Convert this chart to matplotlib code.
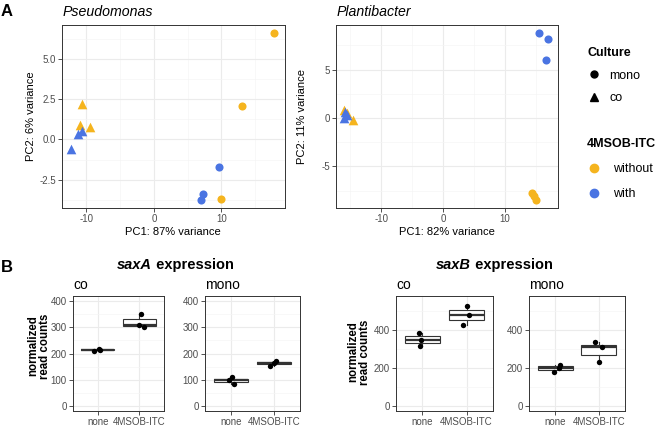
import matplotlib.pyplot as plt
from matplotlib.lines import Line2D
from matplotlib.ticker import MultipleLocator, FormatStrFormatter

plt.rcParams['font.family'] = ['Liberation Sans', 'DejaVu Sans']
plt.rcParams['axes.unicode_minus'] = False

W, H = 656, 432
YELLOW = '#F5B41E'
BLUE = '#4A74E2'
DARK = '#333333'
TICKCOL = '#4D4D4D'

# ---- Panel A data (PCA scores) ----
culture = ['co', 'co', 'co', 'co', 'co', 'co', 'mono', 'mono', 'mono', 'mono', 'mono', 'mono']
itc = ['without', 'without', 'without', 'with', 'with', 'with',
       'with', 'with', 'with', 'without', 'without', 'without']

pseudo_pc1 = [-10.7, -11.0, -9.5, -12.2, -11.2, -10.6, 9.6, 7.2, 6.9, 10.0, 13.1, 17.8]
pseudo_pc2 = [2.2, 0.88, 0.8, -0.62, 0.35, 0.55, -1.71, -3.36, -3.73, -3.72, 2.06, 6.6]

planti_pc1 = [-16.0, -14.5, -15.5, -16.0, -15.5, -15.8, 15.5, 17.0, 16.6, 14.35, 14.7, 15.0]
planti_pc2 = [0.82, -0.2, 0.5, 0.0, 0.3, 0.6, 8.73, 8.11, 5.98, -7.7, -8.04, -8.49]

# ---- Panel B data (normalized read counts) ----
treatments = ['none', '4MSOB-ITC']
saxA_co_none = [211, 215, 218]
saxA_co_itc = [353, 308, 302]
saxA_mono_none = [110, 97, 85]
saxA_mono_itc = [152, 165, 172]
saxB_co_none = [383, 348, 317]
saxB_co_itc = [527, 480, 425]
saxB_mono_none = [178, 216, 200]
saxB_mono_itc = [334, 308, 230]

# horizontal jitter of the points
jit_saxA_co = [[-0.09, 0.05, 0.03], [0.04, 0.0, 0.11]]
jit_saxA_mono = [[0.03, -0.04, 0.07], [-0.1, 0.0, 0.04]]
jit_saxB_co = [[-0.07, -0.03, -0.05], [0.0, 0.05, -0.08]]
jit_saxB_mono = [[-0.03, 0.1, 0.08], [-0.09, 0.07, 0.0]]


def fx(x):
    return x / W


def fy(y):
    return 1 - y / H


def px_axes(fig, left, top, right, bottom):
    return fig.add_axes([left / W, 1 - bottom / H, (right - left) / W, (bottom - top) / H])


def style_axes(ax):
    for s in ax.spines.values():
        s.set_color(DARK)
        s.set_linewidth(0.7)
    ax.grid(True, which='major', color='#EBEBEB', lw=0.8)
    ax.grid(True, which='minor', color='#F5F5F5', lw=0.5)
    ax.set_axisbelow(True)
    ax.tick_params(which='major', length=3, width=0.6, color=DARK,
                   labelsize=7, labelcolor=TICKCOL, pad=1.5)
    ax.tick_params(which='minor', length=0)


def plot_pca(ax, pc1, pc2, xlim, ylim, xmaj, ymaj):
    for cult, marker, size in [('co', '^', 48), ('mono', 'o', 34)]:
        for cond, col in [('without', YELLOW), ('with', BLUE)]:
            xs = [x for x, c, t in zip(pc1, culture, itc) if c == cult and t == cond]
            ys = [y for y, c, t in zip(pc2, culture, itc) if c == cult and t == cond]
            ax.scatter(xs, ys, marker=marker, s=size, color=col, linewidths=0, zorder=3)
    ax.set_xlim(*xlim)
    ax.set_ylim(*ylim)
    ax.xaxis.set_major_locator(MultipleLocator(xmaj))
    ax.xaxis.set_minor_locator(MultipleLocator(xmaj / 2))
    ax.yaxis.set_major_locator(MultipleLocator(ymaj))
    ax.yaxis.set_minor_locator(MultipleLocator(ymaj / 2))
    style_axes(ax)


def plot_box(ax, groups, jitter, ylim, ymaj):
    ax.boxplot(groups, positions=[1, 2], widths=0.8, showfliers=False, showcaps=False,
               patch_artist=True,
               boxprops=dict(facecolor='white', edgecolor=DARK, lw=0.8),
               medianprops=dict(color=DARK, lw=1.6),
               whiskerprops=dict(color=DARK, lw=0.8))
    for i, (vals, jit) in enumerate(zip(groups, jitter)):
        xs = [i + 1 + j for j in jit]
        ax.scatter(xs, vals, s=15, color='black', linewidths=0, zorder=4)
    ax.set_xlim(0.4, 2.6)
    ax.set_ylim(*ylim)
    ax.set_xticks([1, 2])
    ax.set_xticklabels(treatments)
    ax.yaxis.set_major_locator(MultipleLocator(ymaj))
    ax.yaxis.set_minor_locator(MultipleLocator(ymaj / 2))
    style_axes(ax)


fig = plt.figure(figsize=(W / 100, H / 100), dpi=100)

# ---- Panel A ----
ax1 = px_axes(fig, 62, 25, 285, 208)
plot_pca(ax1, pseudo_pc1, pseudo_pc2, (-13.6, 19.4), (-4.25, 7.1), 10, 2.5)
ax1.yaxis.set_major_formatter(FormatStrFormatter('%.1f'))
ax2 = px_axes(fig, 336, 25, 558, 208)
plot_pca(ax2, planti_pc1, planti_pc2, (-17.3, 18.6), (-9.3, 9.6), 10, 5)

fig.text(fx(1), fy(11), 'A', fontsize=12, fontweight='bold', va='center', ha='left')
fig.text(fx(63), fy(12), 'Pseudomonas', fontsize=10.2, style='italic', va='center')
fig.text(fx(337), fy(12), 'Plantibacter', fontsize=10.2, style='italic', va='center')
fig.text(fx(173), fy(232), 'PC1: 87% variance', fontsize=8, ha='center', va='center')
fig.text(fx(447), fy(232), 'PC1: 82% variance', fontsize=8, ha='center', va='center')
fig.text(fx(31), fy(116), 'PC2: 6% variance', fontsize=8, ha='center', va='center', rotation=90)
fig.text(fx(302), fy(116), 'PC2: 11% variance', fontsize=8, ha='center', va='center', rotation=90)

# legends
cult_handles = [Line2D([], [], marker='o', color='black', ls='', markersize=5, label='mono'),
                Line2D([], [], marker='^', color='black', ls='', markersize=5.5, label='co')]
itc_handles = [Line2D([], [], marker='o', color=YELLOW, ls='', markersize=6, label='without'),
               Line2D([], [], marker='o', color=BLUE, ls='', markersize=6, label='with')]
legend_specs = [(cult_handles, 'Culture', 47, 0.85, 0.7),
                (itc_handles, '4MSOB-ITC', 138, 1.05, 1.0)]
for handles, title, ytop, spacing, pad in legend_specs:
    leg = fig.legend(handles=handles, title=title, loc='upper left',
                     bbox_to_anchor=(fx(587), fy(ytop)), frameon=False, fontsize=9,
                     title_fontproperties={'weight': 'bold', 'size': 9},
                     handletextpad=pad, labelspacing=spacing, borderpad=0, borderaxespad=0,
                     handlelength=1.1)
    leg._legend_box.align = 'left'

# ---- Panel B ----
fig.text(fx(1), fy(268), 'B', fontsize=12, fontweight='bold', va='center', ha='left')

boxpanels = [
    (73, 164, 'co', [saxA_co_none, saxA_co_itc], jit_saxA_co, (-20, 420), 100),
    (205, 300, 'mono', [saxA_mono_none, saxA_mono_itc], jit_saxA_mono, (-20, 420), 100),
    (396, 493, 'co', [saxB_co_none, saxB_co_itc], jit_saxB_co, (-27.5, 577.5), 200),
    (529, 625, 'mono', [saxB_mono_none, saxB_mono_itc], jit_saxB_mono, (-27.5, 577.5), 200),
]
for left, right, facet, groups, jit, ylim, ymaj in boxpanels:
    ax = px_axes(fig, left, 296, right, 411)
    plot_box(ax, groups, jit, ylim, ymaj)
    fig.text(fx(left), fy(285), facet, fontsize=10, va='center', ha='left')

for xl, gene in [(117, 'saxA'), (436, 'saxB')]:
    t = fig.text(fx(xl), fy(265), gene, fontsize=10.5, fontweight='bold', style='italic',
                 va='center', ha='left')
    fig.add_artist(plt.Annotation(' expression', xy=(1, 0.5), xycoords=t, va='center',
                                  ha='left', fontsize=10.5, fontweight='bold'))

for xc, yc in [(39, 346), (359, 352)]:
    fig.text(fx(xc), fy(yc), 'normalized\nread counts', fontsize=8.3, fontweight='bold',
             rotation=90, ha='center', va='center', linespacing=1.0, multialignment='center')

fig.savefig('out.png', dpi=100)
